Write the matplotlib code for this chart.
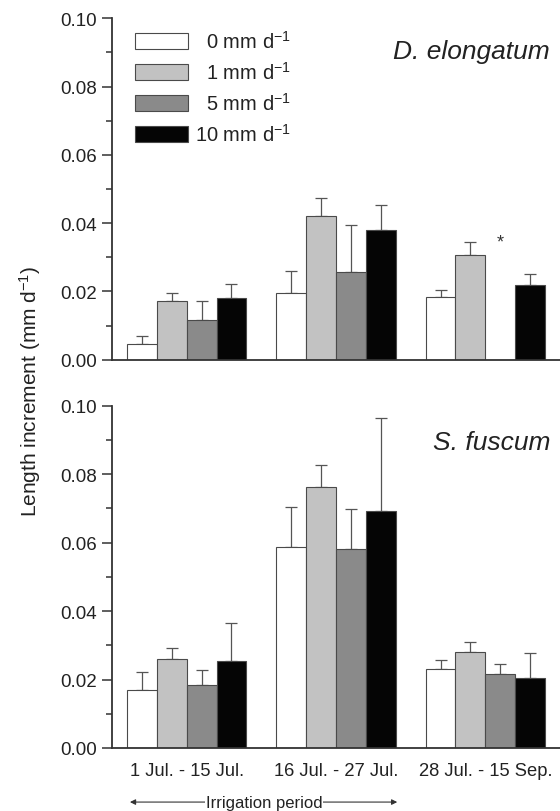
import matplotlib
matplotlib.use("Agg")
import matplotlib.pyplot as plt
import matplotlib.transforms as mtransforms
from matplotlib.ticker import MultipleLocator, FormatStrFormatter
import numpy as np

plt.rcParams["font.family"] = ["Liberation Sans", "DejaVu Sans"]
plt.rcParams["mathtext.fontset"] = "custom"
plt.rcParams["mathtext.rm"] = "Liberation Sans"
plt.rcParams["mathtext.default"] = "regular"

# ── data ────────────────────────────────────────────────────────────────────
periods = ["1 Jul. - 15 Jul.", "16 Jul. - 27 Jul.", "28 Jul. - 15 Sep."]
treatments = ["\u20070 mm d$^{-1}$", "\u20071 mm d$^{-1}$", "\u20075 mm d$^{-1}$", "10 mm d$^{-1}$"]

# D. elongatum (mean, SE) per treatment over the three periods
del_0 = [0.0046, 0.0194, 0.0183]
del_1 = [0.0173, 0.0421, 0.0307]
del_5 = [0.0116, 0.0258, 0.0]
del_10 = [0.0181, 0.0380, 0.0220]
del_0_se = [0.0023, 0.0067, 0.0022]
del_1_se = [0.0021, 0.0052, 0.0038]
del_5_se = [0.0056, 0.0138, 0.0]
del_10_se = [0.0041, 0.0073, 0.0032]

# S. fuscum
sfu_0 = [0.0169, 0.0586, 0.0230]
sfu_1 = [0.0260, 0.0762, 0.0281]
sfu_5 = [0.0185, 0.0581, 0.0217]
sfu_10 = [0.0253, 0.0691, 0.0204]
sfu_0_se = [0.0052, 0.0117, 0.0027]
sfu_1_se = [0.0031, 0.0066, 0.0028]
sfu_5_se = [0.0044, 0.0116, 0.0028]
sfu_10_se = [0.0111, 0.0272, 0.0073]

# missing 5 mm value in last D. elongatum period is flagged with an asterisk
asterisk_period = 2
asterisk_treatment = 2
asterisk_y = 0.0345

BAR_COLORS = ["#ffffff", "#c2c2c2", "#8a8a8a", "#050505"]
EDGE = "#4a4a4a"
TXT = "#222222"
WIDTH = 0.2

fig = plt.figure(figsize=(5.6, 8.12), dpi=100)
ax1 = fig.add_axes([0.2, 0.5558, 0.8, 0.4204])
ax2 = fig.add_axes([0.2, 0.0776, 0.8, 0.4215])

x = np.arange(len(periods))
offsets = (np.arange(4) - 1.5) * WIDTH


def draw_panel(ax, means, ses, species, label_y):
    handles = []
    for i, (m, s) in enumerate(zip(means, ses)):
        xs = x + offsets[i]
        b = ax.bar(xs, m, WIDTH, color=BAR_COLORS[i], edgecolor=EDGE, lw=0.8, zorder=2)
        handles.append(b)
        m_arr = np.array(m)
        s_arr = np.array(s)
        keep = s_arr > 0
        ax.errorbar(xs[keep], m_arr[keep], yerr=[np.zeros(keep.sum()), s_arr[keep]],
                    fmt="none", ecolor="#555555", elinewidth=0.9, capsize=4,
                    capthick=0.9, zorder=1)

    ax.set_xlim(-0.5, 2.5)
    ax.set_ylim(0, 0.10)
    ax.yaxis.set_major_locator(MultipleLocator(0.02))
    ax.yaxis.set_minor_locator(MultipleLocator(0.01))
    ax.yaxis.set_major_formatter(FormatStrFormatter("%.2f"))
    ax.tick_params(axis="y", which="major", direction="out", length=7, width=1.1,
                   labelsize=13.5, colors="#333333", labelcolor=TXT, pad=4)
    ax.tick_params(axis="y", which="minor", direction="out", length=4, width=1.1,
                   colors="#333333")
    ax.tick_params(axis="x", length=0, labelsize=13.2, labelcolor=TXT, pad=10)
    for side in ("top", "right"):
        ax.spines[side].set_visible(False)
    for side in ("left", "bottom"):
        ax.spines[side].set_color("#333333")
        ax.spines[side].set_linewidth(1.3)
    ax.text(0.978, label_y, species, transform=ax.transAxes, ha="right",
            va="center", fontsize=19, style="italic", color=TXT)
    return handles


handles = draw_panel(ax1, [del_0, del_1, del_5, del_10],
                     [del_0_se, del_1_se, del_5_se, del_10_se], "D. elongatum", 0.905)
draw_panel(ax2, [sfu_0, sfu_1, sfu_5, sfu_10],
           [sfu_0_se, sfu_1_se, sfu_5_se, sfu_10_se], "S. fuscum", 0.894)

ax1.set_xticks([])
ax2.set_xticks(x)
ax2.set_xticklabels(periods)

ax1.text(x[asterisk_period] + offsets[asterisk_treatment], asterisk_y, "*",
         ha="center", va="center", fontsize=13, color="#333333")

ax1.legend(handles, treatments, loc="upper left", bbox_to_anchor=(0.051, 0.965),
           frameon=False, fontsize=14.5, handlelength=2.64, handleheight=0.87,
           labelspacing=0.45, handletextpad=0.35, borderpad=0, borderaxespad=0,
           labelcolor=TXT)

# irrigation period arrow under the lower panel
trans = mtransforms.blended_transform_factory(ax2.transData, ax2.transAxes)
ax2.annotate("", xy=(-0.38, -0.158), xytext=(1.41, -0.158), xycoords=trans,
             textcoords=trans, annotation_clip=False,
             arrowprops=dict(arrowstyle="<|-|>", lw=0.8, color="#333333",
                             mutation_scale=8, shrinkA=0, shrinkB=0))
ax2.text(0.518, -0.158, "Irrigation period", transform=trans, ha="center",
         va="center", fontsize=12, color=TXT,
         bbox=dict(facecolor="white", edgecolor="none", pad=0.6))

fig.text(0.054, 0.518, "Length increment (mm d$^{-1}$)", rotation=90,
         ha="center", va="center", fontsize=15, color=TXT)

fig.savefig("out.png", dpi=100, facecolor="white")
